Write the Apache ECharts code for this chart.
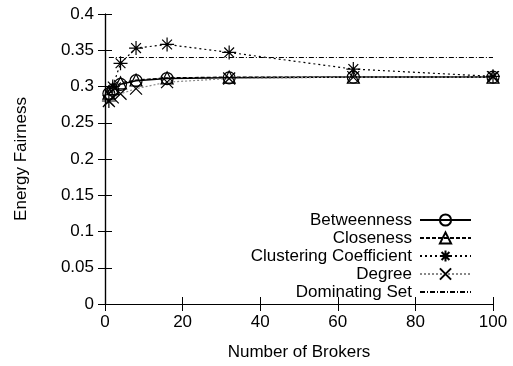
<!DOCTYPE html>
<html><head><meta charset="utf-8">
<script src="https://cdn.jsdelivr.net/npm/echarts@6/dist/echarts.min.js"></script>
<style>html,body{margin:0;padding:0;background:#fff}#c{width:513px;height:366px}</style>
</head><body><div id="c"></div>
<script>
const brokers = [1, 2, 4, 8, 16, 32, 64, 100];
const betweenness = [0.290, 0.295, 0.303, 0.308, 0.311, 0.312, 0.313, 0.313];
const closeness = [0.291, 0.297, 0.305, 0.309, 0.312, 0.313, 0.313, 0.313];
const clustering = [0.280, 0.300, 0.332, 0.353, 0.358, 0.347, 0.324, 0.314];
const degree = [0.280, 0.285, 0.290, 0.297, 0.306, 0.311, 0.313, 0.313];
const dominating = [0.340, 0.340, 0.340, 0.340, 0.340, 0.340, 0.340, 0.340];
const xTicks = [0, 20, 40, 60, 80, 100];
const yTicks = [0, 0.05, 0.1, 0.15, 0.2, 0.25, 0.3, 0.35, 0.4];

const FONT = '"Liberation Sans", Arial, sans-serif';
const FS = 17;
const pairs = a => brokers.map((x, i) => [x, a[i]]);
const starPath = 'path://M0,5L10,5M5,0L5,10M1.5,1.5L8.5,8.5M8.5,1.5L1.5,8.5';
const crossPath = 'path://M0,0L10,10M10,0L0,10';

function mk(name, data, symbol, size, lineType, lineColor, width) {
  const hidden = symbol === 'none';
  return {
    name, type: 'line', data: pairs(data),
    symbol: hidden ? 'circle' : symbol, symbolSize: hidden ? 0 : size,
    showSymbol: !hidden,
    lineStyle: {color: lineColor, width: width, type: lineType},
    itemStyle: {color: 'rgba(0,0,0,0)', borderColor: hidden ? 'rgba(0,0,0,0)' : '#000', borderWidth: hidden ? 0 : 1.2},
    emphasis: {disabled: true}, z: 3
  };
}

const axisBase = {
  axisLine: {show: true, lineStyle: {color: '#000', width: 1.2}},
  axisTick: {show: true, inside: true, length: 7, lineStyle: {color: '#000', width: 1}},
  splitLine: {show: false}
};

const chart = echarts.init(document.getElementById('c'));
chart.setOption({
  animation: false,
  backgroundColor: '#fff',
  grid: {left: 105, right: 20, top: 14, bottom: 57},
  legend: {
    orient: 'vertical', right: 41, top: 211, align: 'right', padding: 0,
    itemWidth: 51, itemHeight: 14, itemGap: 0,
    textStyle: {fontFamily: FONT, fontSize: 17, lineHeight: 18, color: '#000', padding: [0, 3, 0, 0]},
    data: ['Betweenness', 'Closeness', 'Clustering Coefficient', 'Degree', 'Dominating Set']
  },
  xAxis: [Object.assign({
    type: 'value', min: 0, max: 100, interval: 20,
    name: 'Number of Brokers', nameLocation: 'middle', nameGap: 40,
    nameTextStyle: {fontFamily: FONT, fontSize: 17, color: '#000'},
    axisLabel: {fontFamily: FONT, fontSize: FS, color: '#000', margin: 10,
      formatter: v => xTicks.includes(v) ? String(v) : ''}
  }, axisBase), Object.assign({
    type: 'value', position: 'top', min: 0, max: 100, interval: 20,
    axisLabel: {show: false}
  }, axisBase)],
  yAxis: [Object.assign({
    type: 'value', min: 0, max: 0.4, interval: 0.05,
    name: 'Energy Fairness', nameLocation: 'middle', nameGap: 75, nameRotate: 90,
    nameTextStyle: {fontFamily: FONT, fontSize: 17, color: '#000'},
    axisLabel: {fontFamily: FONT, fontSize: FS, color: '#000', margin: 11,
      formatter: v => {const t = yTicks.find(y => Math.abs(y - v) < 1e-9); return t === undefined ? '' : String(+t.toFixed(2));}}
  }, axisBase), Object.assign({
    type: 'value', position: 'right', min: 0, max: 0.4, interval: 0.05,
    axisLabel: {show: false}
  }, axisBase)],
  series: [
    mk('Betweenness', betweenness, 'circle', 12, 'solid', '#000', 1.5),
    mk('Closeness', closeness, 'triangle', 12, [4, 2], '#000', 1.2),
    mk('Clustering Coefficient', clustering, starPath, 14, [2, 3], '#000', 1.2),
    mk('Degree', degree, crossPath, 12, [2, 2], '#888', 1.2),
    mk('Dominating Set', dominating, 'none', 0, [5, 2, 1, 2], '#000', 1.2)
  ]
});
</script></body></html>
